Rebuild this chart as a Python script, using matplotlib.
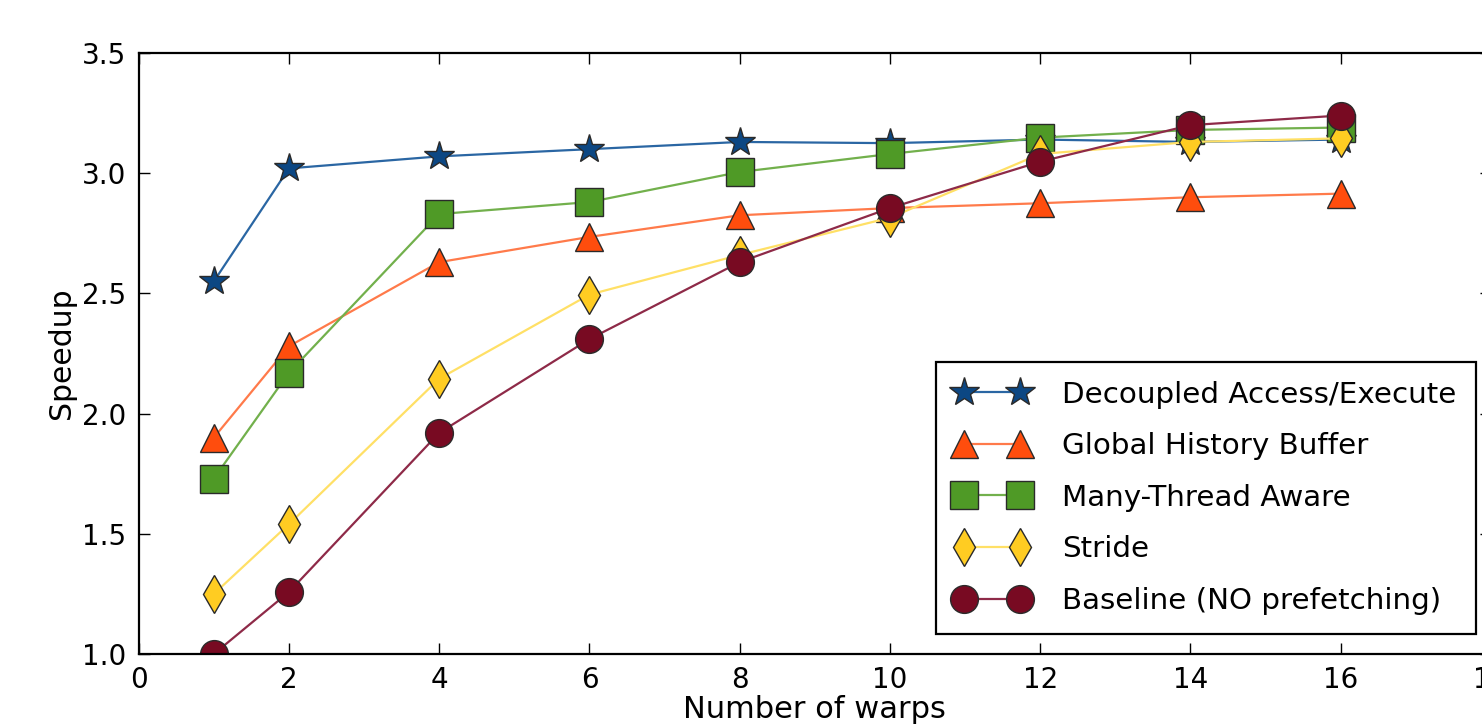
import matplotlib
matplotlib.use("Agg")
import matplotlib.pyplot as plt

warps = [1, 2, 4, 6, 8, 10, 12, 14, 16]
decoupled = [2.55, 3.02, 3.07, 3.10, 3.13, 3.125, 3.14, 3.13, 3.14]
ghb = [1.90, 2.28, 2.63, 2.735, 2.825, 2.855, 2.875, 2.90, 2.915]
mta = [1.73, 2.17, 2.83, 2.88, 3.005, 3.08, 3.148, 3.18, 3.19]
stride = [1.25, 1.54, 2.145, 2.495, 2.66, 2.815, 3.08, 3.13, 3.145]
baseline = [1.00, 1.258, 1.92, 2.31, 2.63, 2.855, 3.048, 3.20, 3.24]

labels = ["Decoupled Access/Execute", "Global History Buffer",
          "Many-Thread Aware", "Stride", "Baseline (NO prefetching)"]

plt.rcParams['font.family'] = ['DejaVu Sans']
fig = plt.figure(figsize=(14.82, 7.28), dpi=100)
ax = fig.add_axes([138.7/1482, 74/728, (1491-138.7)/1482, (654-53)/728])

series = [
    (decoupled, '*', '#0c4783', '#2a66a3', 22),
    (ghb, '^', '#ff4d0d', '#ff7a4a', 20),
    (mta, 's', '#4f9a26', '#72b04c', 20),
    (stride, 'd', '#ffcc22', '#ffe066', 19.5),
    (baseline, 'o', '#780a22', '#8e2a48', 20),
]
for (vals, mk, fc, lc, ms), lab in zip(series, labels):
    ax.plot(warps, vals, color=lc, lw=1.6, marker=mk, markersize=ms,
            markerfacecolor=fc, markeredgecolor='#2a2a2a', markeredgewidth=1.0,
            label=lab)

ax.set_xlim(0, 18)
ax.set_ylim(1.0, 3.5)
ax.set_xticks(range(0, 19, 2))
ax.set_yticks([1.0, 1.5, 2.0, 2.5, 3.0, 3.5])
ax.tick_params(direction='in', length=8, width=1.0, top=True, right=True,
               labelsize=20, pad=9)
for s in ax.spines.values():
    s.set_linewidth(1.6)
ax.set_xlabel("Number of warps", fontsize=22, labelpad=0)
ax.set_ylabel("Speedup", fontsize=21.5, labelpad=4)

leg = fig.legend(loc='lower right', bbox_to_anchor=(1476/1482, (728-634)/728),
                 bbox_transform=fig.transFigure, numpoints=2, fontsize=21.2,
                 fancybox=False, framealpha=1, edgecolor='black',
                 handlelength=2.5, borderaxespad=0, labelspacing=0.8,
                 borderpad=0.65, handletextpad=1.15)
leg.get_frame().set_linewidth(1.6)

fig.savefig("out.png", dpi=100)
